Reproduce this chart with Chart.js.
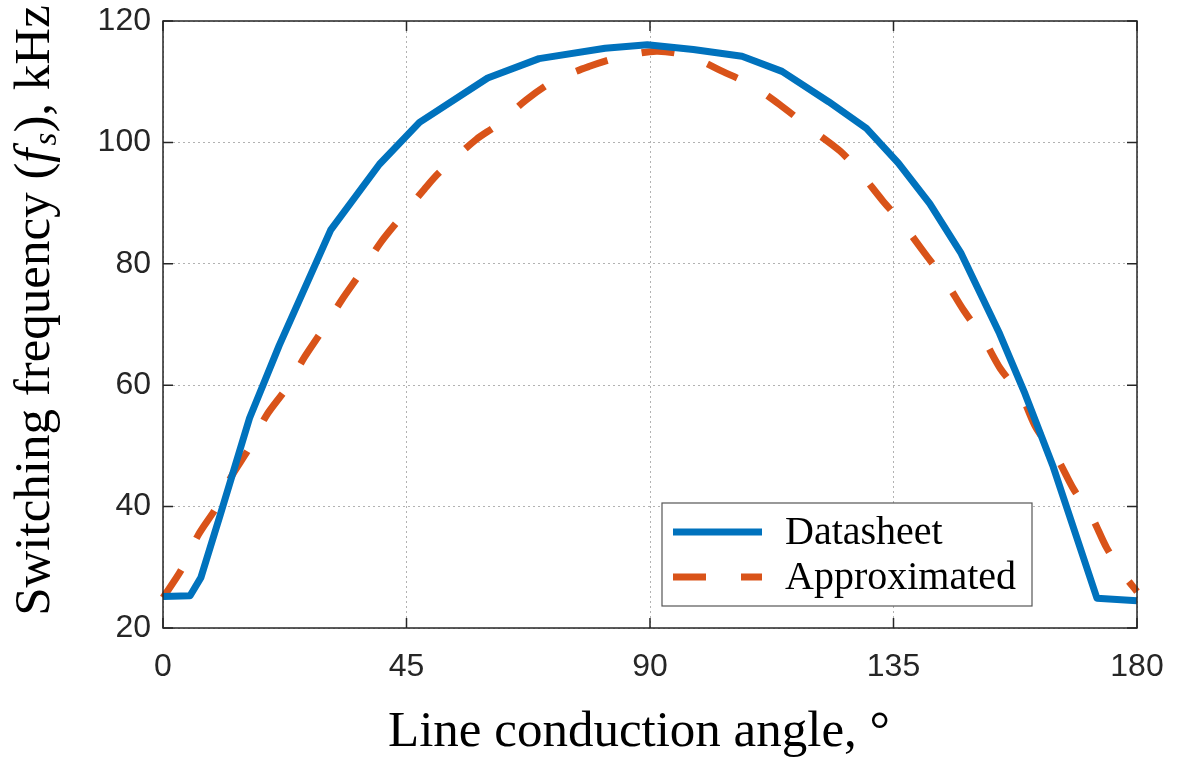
<!DOCTYPE html>
<html>
<head>
<meta charset="utf-8">
<script src="https://cdn.jsdelivr.net/npm/chart.js@4.4.1/dist/chart.umd.min.js"></script>
<style>
  html, body { margin: 0; padding: 0; background: #fff; }
  #wrap { width: 1188px; height: 764px; }
</style>
</head>
<body>
<div id="wrap"><canvas id="grafico"></canvas></div>
<script>
// datos
var angDatasheet = [0, 5, 7, 10.5, 16, 21.5, 31, 40, 47.4, 60, 69.5, 81.7, 89.5, 98, 107, 114.4, 123, 130, 135.9, 141.7, 147.5, 154.6, 159.3, 164.5, 172.6, 180];
var fsDatasheet = [25.2, 25.3, 28.3, 38.4, 54.6, 66.6, 85.6, 96.4, 103.3, 110.6, 113.8, 115.5, 116.1, 115.3, 114.2, 111.7, 106.7, 102.3, 96.6, 89.9, 81.7, 68.5, 58.6, 46.6, 24.9, 24.5];

var angApprox = [0, 3.4, 6.5, 9.8, 12.6, 15.9, 19.1, 22.8, 26.2, 29.5, 33, 36.6, 40.3, 44.3, 48.3, 51, 57.9, 61.8, 67.1, 72.4, 78.7, 84.2, 91.2, 97.2, 103.4, 109, 114.6, 119.6, 125.1, 128.5, 133, 136.7, 140.8, 144.5, 148, 151.6, 154.7, 158.7, 161.4, 165.1, 168.2, 171.6, 174.4, 177.8, 180];
var fsApprox = [25, 29.6, 35.3, 39.8, 44.9, 49.6, 55, 59.5, 64.7, 69.1, 74, 78.6, 83.6, 88, 92.3, 95, 100.5, 102.9, 107, 110.2, 112.5, 114, 115, 114.2, 111.7, 109.3, 105.8, 102.3, 98.6, 95.4, 90.4, 86.6, 81.7, 77.3, 72.3, 67.7, 62.8, 58.1, 52.9, 48.2, 43, 38.4, 33.2, 28.5, 26];

var ticksX = [0, 45, 90, 135, 180];
var ticksY = [20, 40, 60, 80, 100, 120];

var etiquetas = ["Datasheet", "Approximated"];
var colores = ["#0072BD", "#D95319"];
var tituloX = "Line conduction angle, \u00b0";

function puntos(xs, ys){
    var r = [];
    for (var i = 0; i < xs.length; i++) r.push({x: xs[i], y: ys[i]});
    return r;
}

var serif = "'Liberation Serif', 'Times New Roman', serif";
var sans = "'Liberation Sans', Arial, sans-serif";

// caja, marcas hacia dentro, titulos y leyenda
var marco = {
    id: 'marco',
    afterDatasetsDraw: function(chart){
        var ctx = chart.ctx, a = chart.chartArea;
        var sx = chart.scales.x, sy = chart.scales.y;
        ctx.save();
        ctx.strokeStyle = '#262626';
        ctx.lineWidth = 1.5;
        ctx.strokeRect(a.left, a.top, a.right - a.left, a.bottom - a.top);
        ctx.beginPath();
        ticksX.forEach(function(v){
            var px = sx.getPixelForValue(v);
            ctx.moveTo(px, a.bottom); ctx.lineTo(px, a.bottom - 10);
            ctx.moveTo(px, a.top); ctx.lineTo(px, a.top + 10);
        });
        ticksY.forEach(function(v){
            var py = sy.getPixelForValue(v);
            ctx.moveTo(a.left, py); ctx.lineTo(a.left + 10, py);
            ctx.moveTo(a.right, py); ctx.lineTo(a.right - 10, py);
        });
        ctx.stroke();

        // leyenda
        var lw = 370, lh = 103;
        var lx = a.right - 105 - lw, ly = a.bottom - 22 - lh;
        ctx.fillStyle = '#fff';
        ctx.fillRect(lx, ly, lw, lh);
        ctx.strokeStyle = '#555';
        ctx.lineWidth = 1.2;
        ctx.strokeRect(lx, ly, lw, lh);
        chart.data.datasets.forEach(function(ds, i){
            var yy = ly + 29 + i * 45;
            ctx.beginPath();
            ctx.strokeStyle = ds.borderColor;
            ctx.lineWidth = 7;
            ctx.setLineDash(ds.borderDash || []);
            ctx.moveTo(lx + 11, yy);
            ctx.lineTo(lx + 100, yy);
            ctx.stroke();
            ctx.setLineDash([]);
            ctx.fillStyle = '#000';
            ctx.font = '40px ' + serif;
            ctx.textBaseline = 'middle';
            ctx.textAlign = 'left';
            ctx.fillText(ds.label, lx + 123, yy + 1);
        });

        // titulo eje X
        ctx.fillStyle = '#000';
        ctx.font = '51px ' + serif;
        ctx.textAlign = 'center';
        ctx.textBaseline = 'middle';
        ctx.fillText(tituloX, 639, 733);

        // titulo eje Y con f cursiva y subindice s
        var partes = [
            {t: 'Switching frequency (', f: '51px ' + serif, dy: 0},
            {t: 'f', f: 'italic 51px ' + serif, dy: 0},
            {t: 's', f: 'italic 33px ' + serif, dy: 11},
            {t: '), kHz', f: '51px ' + serif, dy: 0}
        ];
        var total = 0;
        partes.forEach(function(p){ ctx.font = p.f; p.w = ctx.measureText(p.t).width; total += p.w; });
        ctx.translate(36, 312);
        ctx.rotate(-Math.PI / 2);
        ctx.textAlign = 'left';
        var cx = -total / 2;
        partes.forEach(function(p){
            ctx.font = p.f;
            ctx.fillText(p.t, cx, p.dy);
            cx += p.w + (p.t === 'f' ? 3 : 0);
        });
        ctx.restore();
    }
};

var ctx = document.getElementById('grafico').getContext('2d');
var chart = new Chart(ctx, {
    type: 'line',
    data: {
        datasets: [
            {
                label: etiquetas[0],
                data: puntos(angDatasheet, fsDatasheet),
                borderColor: colores[0],
                borderWidth: 7,
                pointRadius: 0,
                tension: 0,
                fill: false,
                clip: false,
                borderJoinStyle: 'round'
            },
            {
                label: etiquetas[1],
                data: puntos(angApprox, fsApprox),
                borderColor: colores[1],
                borderWidth: 7,
                borderDash: [33, 35],
                pointRadius: 0,
                tension: 0.3,
                fill: false,
                clip: false
            }
        ]
    },
    plugins: [marco],
    options: {
        responsive: true,
        maintainAspectRatio: false,
        animation: false,
        layout: { padding: { top: 21, right: 51, left: 0, bottom: 0 } },
        plugins: {
            legend: { display: false },
            tooltip: { enabled: false },
            title: { display: false }
        },
        scales: {
            x: {
                type: 'linear',
                min: 0,
                max: 180,
                afterBuildTicks: function(s){ s.ticks = ticksX.map(function(v){ return {value: v}; }); },
                afterFit: function(s){ s.height = 136; s.paddingLeft = 0; s.paddingRight = 0; },
                border: { display: false, dash: [2, 3] },
                grid: { color: 'rgba(0,0,0,0.3)', lineWidth: 1, drawTicks: false },
                ticks: { color: '#262626', font: { family: sans, size: 32 }, padding: 20, maxRotation: 0 }
            },
            y: {
                type: 'linear',
                min: 20,
                max: 120,
                afterBuildTicks: function(s){ s.ticks = ticksY.map(function(v){ return {value: v}; }); },
                afterFit: function(s){ s.width = 163; s.paddingTop = 0; s.paddingBottom = 0; },
                border: { display: false, dash: [2, 3] },
                grid: { color: 'rgba(0,0,0,0.3)', lineWidth: 1, drawTicks: false },
                ticks: { color: '#262626', font: { family: sans, size: 32 }, padding: 12 }
            }
        }
    }
});
</script>
</body>
</html>
